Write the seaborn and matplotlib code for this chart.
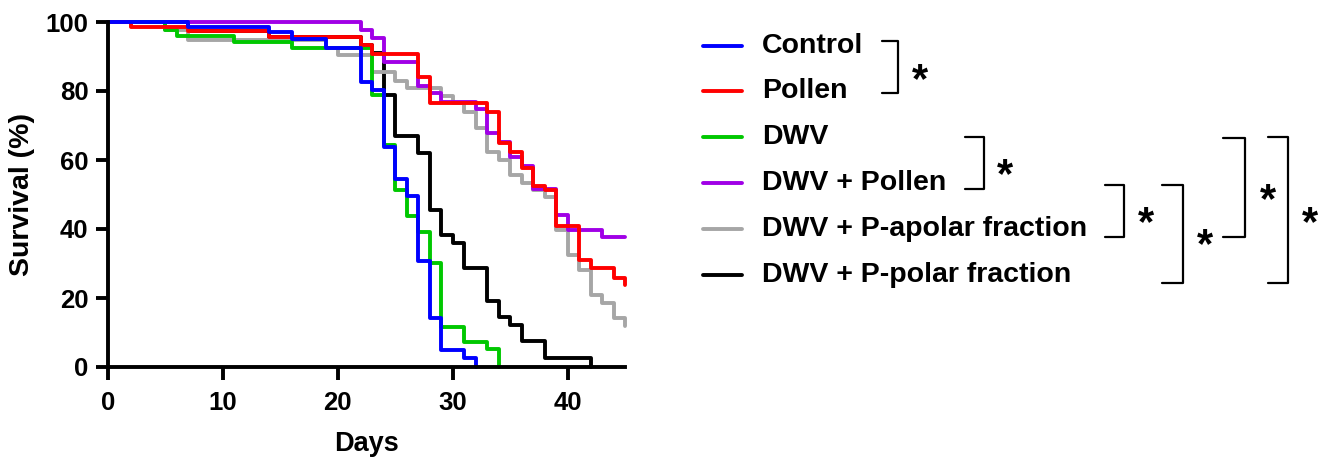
import matplotlib
matplotlib.use("Agg")
import matplotlib.pyplot as plt
import seaborn as sns
import pandas as pd
from matplotlib.lines import Line2D

# ---- data (Kaplan-Meier style step curves; day, survival %) ----
control_days = [0, 7, 14, 16, 19, 22, 23, 24, 25, 26, 27, 28, 29, 31, 32]
control_surv = [100, 98.5, 97, 95, 92.5, 82.6, 80.3, 63.8, 54.5, 49.6, 30.7, 14.2, 5, 2.6, 0]

pollen_days = [0, 2, 7, 14, 22, 23, 27, 28, 33, 34, 35, 36, 37, 38, 39, 41, 42, 44, 45]
pollen_surv = [100, 98.5, 97.4, 95.6, 93.3, 90.7, 84, 76.6, 74, 65, 62.3, 57.7, 52.5, 51.3, 40.9, 31, 28.7, 25.8, 23.8]

dwv_days = [0, 5, 6, 11, 16, 23, 24, 25, 26, 27, 28, 29, 31, 33, 34]
dwv_surv = [100, 97.7, 96, 94.2, 92.5, 78.8, 64.3, 51.3, 43.8, 39.1, 30.1, 11.6, 7.2, 5.2, 0]

dwvp_days = [0, 22, 23, 24, 27, 28, 29, 32, 33, 34, 35, 36, 37, 39, 40, 43, 45]
dwvp_surv = [100, 97.7, 95.4, 88.4, 81.5, 79.4, 76.8, 74.8, 67.8, 65.2, 60.8, 58.2, 51.6, 44, 39.7, 37.7, 37.7]

apolar_days = [0, 5, 7, 19, 20, 23, 25, 26, 29, 30, 31, 32, 33, 34, 35, 36, 37, 38, 39, 40, 41, 42, 43, 44, 45]
apolar_surv = [100, 97.7, 94.8, 92.5, 90.4, 85.5, 83, 80.9, 78.5, 76.5, 74, 69.3, 62.3, 60, 55.7, 53.3, 51.3, 49.3, 39.7, 32.5, 28, 20.9, 18.6, 14.2, 12]

polar_days = [0, 7, 14, 22, 23, 24, 25, 27, 28, 29, 30, 31, 33, 34, 35, 36, 38, 42]
polar_surv = [100, 97.4, 95.6, 93.3, 91, 78.8, 67, 62, 45.5, 38.3, 36, 28.7, 19.1, 14.5, 12.2, 7.5, 2.6, 0]

labels = ["Control", "Pollen", "DWV", "DWV + Pollen", "DWV + P-apolar fraction", "DWV + P-polar fraction"]
colors = ["#0000FF", "#FF0000", "#00C800", "#A000E6", "#A6A6A6", "#000000"]
series = [(control_days, control_surv), (pollen_days, pollen_surv), (dwv_days, dwv_surv),
          (dwvp_days, dwvp_surv), (apolar_days, apolar_surv), (polar_days, polar_surv)]
x_ticks = [0, 10, 20, 30, 40]
y_ticks = [0, 20, 40, 60, 80, 100]

# ---- style ----
sns.set_style("ticks")
plt.rcParams["font.family"] = ["Liberation Sans", "DejaVu Sans"]
plt.rcParams["font.weight"] = "bold"
plt.rcParams["text.color"] = "black"
plt.rcParams["axes.labelcolor"] = "black"
plt.rcParams["xtick.color"] = "black"
plt.rcParams["ytick.color"] = "black"

fig = plt.figure(figsize=(13.33, 4.57), dpi=100)
ax = fig.add_axes([108 / 1333, 1 - 367 / 457, (625 - 108) / 1333, (367 - 22) / 457])

# draw order: black at bottom, blue on top
draw_order = [5, 4, 3, 2, 1, 0]
for i in draw_order:
    d, s = series[i]
    df = pd.DataFrame({"Days": d, "Survival": s})
    sns.lineplot(data=df, x="Days", y="Survival", ax=ax, color=colors[i], lw=2.8,
                 drawstyle="steps-post", sort=False, estimator=None, clip_on=False)

ax.set_xlim(0, 45)
ax.set_ylim(0, 100)
ax.set_xticks(x_ticks)
ax.set_yticks(y_ticks)
sns.despine(ax=ax)
for sp in ["left", "bottom"]:
    ax.spines[sp].set_linewidth(2.8)
    ax.spines[sp].set_color("black")
ax.tick_params(axis="both", length=9, width=2.8, colors="black", labelsize=18.5)
ax.tick_params(axis="x", pad=8)
ax.tick_params(axis="y", pad=5)
for t in ax.get_xticklabels() + ax.get_yticklabels():
    t.set_fontweight("bold")
    t.set_color("black")
ax.set_xlabel("Days", fontsize=19.5, fontweight="bold", labelpad=12, color="black")
ax.set_ylabel("Survival (%)", fontsize=20.5, fontweight="bold", labelpad=8, color="black")

# ---- legend (manual rows) ----
W, H = 1333, 457
row_y = [46, 91, 137, 183, 229, 275]
for lab, col, y in zip(labels, colors, row_y):
    fig.add_artist(Line2D([703 / W, 742 / W], [1 - y / H, 1 - y / H], color=col, lw=2.8))
    fig.text(762 / W, 1 - y / H, lab, fontsize=20.5, fontweight="bold", va="center", ha="left",
             color="black")

# significance brackets: (x_left, x_right, y_top, y_bottom, star_x, star_y)
brackets = [
    (882, 898, 41, 93, 920, 74),
    (965, 984, 137, 189, 1005, 169),
    (1105, 1124, 185, 237, 1146, 217),
    (1162, 1183, 185, 283, 1205, 239),
    (1223, 1245, 138, 237, 1268, 194),
    (1268, 1288, 137, 283, 1310, 217),
]
for xl, xr, yt, yb, sx, sy in brackets:
    fig.add_artist(Line2D([xl / W, xr / W, xr / W, xl / W],
                          [1 - yt / H, 1 - yt / H, 1 - yb / H, 1 - yb / H],
                          color="black", lw=1.6))
    fig.text(sx / W, 1 - (sy + 7) / H, "*", fontsize=30, fontweight="bold", ha="center", va="center",
             color="black")

fig.savefig("out.png", dpi=100)
